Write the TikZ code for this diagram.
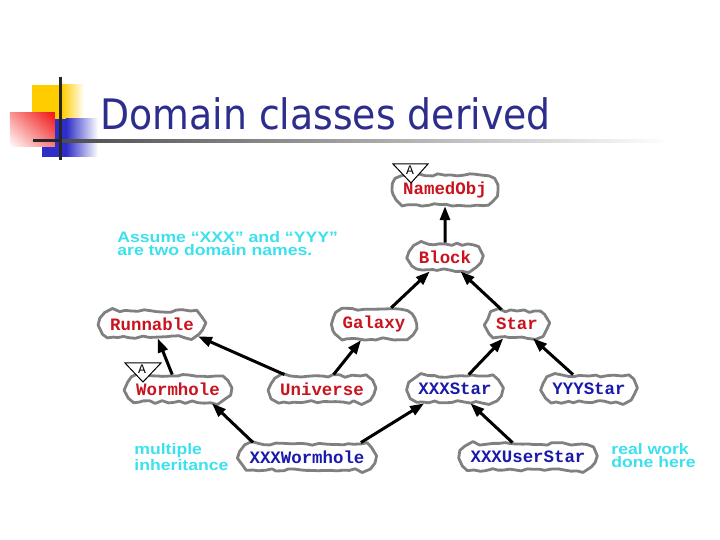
\documentclass[tikz,border=0pt]{standalone}
\usepackage{fontspec}
\setmainfont{DejaVu Sans}
\setsansfont{Liberation Sans}
\setmonofont{Liberation Mono}
\usetikzlibrary{arrows.meta, shapes.misc, decorations.pathmorphing, shadings}

\definecolor{titleblue}{RGB}{45,45,140}
\definecolor{namered}{RGB}{200,20,30}
\definecolor{nameblue}{RGB}{25,25,170}
\definecolor{notecyan}{RGB}{60,225,238}
\definecolor{cloudgray}{RGB}{128,128,128}
\definecolor{logoyellow}{RGB}{255,204,0}
\definecolor{logoblue}{RGB}{45,45,200}
\definecolor{logored}{RGB}{240,20,20}

\newcommand\clsfont{\ttfamily\bfseries\fontsize{8.7}{9}\selectfont}
\newcommand\widen[1]{\scalebox{1.16}[1]{#1}}

\tikzset{
    cls/.style={rounded rectangle, draw=cloudgray, line width=1.4pt, fill=white,
        decorate, decoration={random steps, segment length=3pt, amplitude=0.7pt},
        line join=round, inner xsep=4pt, minimum height=13pt, font=\clsfont},
    base/.style={cls, text=namered},
    derived/.style={cls, text=nameblue},
    isa/.style={-{Triangle[length=7pt,width=5pt]}, line width=1.5pt},
    note/.style={anchor=north west, inner sep=0pt, align=left, text=notecyan,
        font=\sffamily\bfseries\fontsize{7.6}{6.5}\selectfont},
    abstri/.style={draw, line width=0.5pt, fill=white}
}

\begin{document}
\begin{tikzpicture}[x=0.5pt, y=-0.5pt]
    \pgfmathsetseed{7}
    \fill[white] (0,0) rectangle (720,540);
    \useasboundingbox (0,0) rectangle (720,540);

    % logo and rule
    \fill[logoyellow] (32,85) rectangle (62,121);
    \shade[left color=logoyellow, right color=white] (62,85) rectangle (84,121);
    \fill[logoblue] (42,119) rectangle (66,157);
    \shade[left color=logoblue, right color=white] (66,119) rectangle (98,157);
    \shade[upper right=logored, lower left=white, upper left=logored!45, lower right=logored!55]
        (10,113) rectangle (55,147);
    \draw[line width=1.5pt, black!85] (61,77) -- (61,160);
    \fill[black!85] (33,139.5) rectangle (62,142.5);
    \shade[left color=black!70, right color=white] (62,139.5) rectangle (670,142.5);

    \node[anchor=base west, inner sep=0pt, text=titleblue, font=\fontsize{21}{24}\selectfont]
        (ttl) at (100,130) {\scalebox{0.9}[1]{Domain classes derived}};

    % classes
    \node[base] (nobj) at (445,190) {NamedObj};
    \node[base] (blk) at (445,257) {Block};
    \node[base] (run) at (152,324) {Runnable};
    \node[base] (gal) at (374,324) {Galaxy};
    \node[base] (star) at (517,324) {Star};
    \node[base] (worm) at (178,389) {Wormhole};
    \node[base] (univ) at (322,389) {Universe};
    \node[derived] (xstar) at (455,389) {XXXStar};
    \node[derived] (ystar) at (589,389) {YYYStar};
    \node[derived] (xworm) at (307,457) {XXXWormhole};
    \node[derived] (xuser) at (528,457) {XXXUserStar};

    % abstract marks
    \draw[abstri] (393,164) -- (428,164) -- (411,183) -- cycle;
    \node[font=\ttfamily\fontsize{6.5}{6.5}\selectfont, inner sep=0pt] (nobjA) at (410,170) {A};
    \draw[abstri] (125,363) -- (161,363) -- (143,382) -- cycle;
    \node[font=\ttfamily\fontsize{6.5}{6.5}\selectfont, inner sep=0pt] (wormA) at (142,369) {A};

    % inheritance
    \draw[isa] (blk) -- (nobj);
    \draw[isa] (gal) -- (blk);
    \draw[isa] (star) -- (blk);
    \draw[isa] (worm) -- (run);
    \draw[isa] (univ.159) -- (run.345);
    \draw[isa] (univ) -- (gal);
    \draw[isa] (xstar) -- (star);
    \draw[isa] (ystar) -- (star);
    \draw[isa] (xworm.165) -- (worm.337);
    \draw[isa] (xworm.15) -- (xstar.205);
    \draw[isa] (xuser) -- (xstar);

    % notes
    \node[note] (assume) at (117,231) {\widen{Assume “XXX” and “YYY”}\\\widen{are two domain names.}};
    \node[note] (multi) at (134,443) {\widen{multiple}\\\widen{inheritance}};
    \node[note] (real) at (611,443) {\widen{real work}\\\widen{done here}};
\end{tikzpicture}
\end{document}
